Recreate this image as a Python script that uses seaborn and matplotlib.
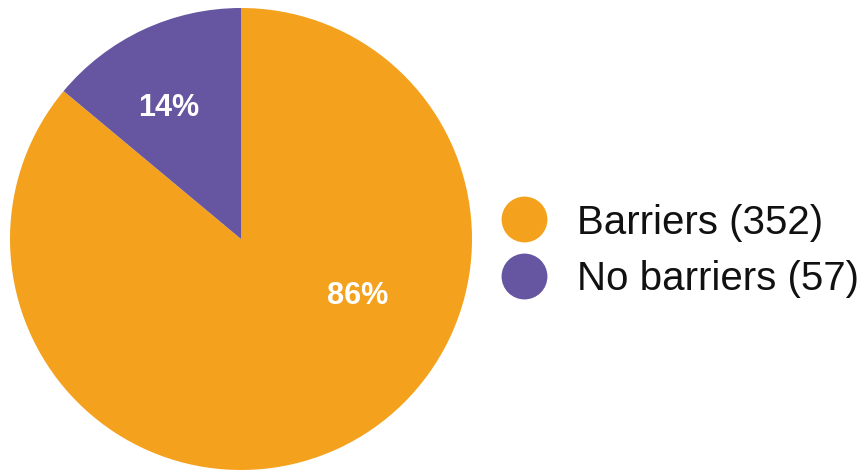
import matplotlib
matplotlib.use("Agg")
import matplotlib.pyplot as plt
from matplotlib.lines import Line2D
import numpy as np
import seaborn as sns

categories = ["Barriers", "No barriers"]
counts = [352, 57]
percent_labels = ["86%", "14%"]
colors = ["#F4A11D", "#6655A1"]

sns.set_theme(style="white")
plt.rcParams["font.family"] = ["Liberation Sans", "DejaVu Sans"]

fig = plt.figure(figsize=(8.59, 4.74), dpi=100)
W, H = 859, 474
cx, cy, r = 241, 239, 231
ax = fig.add_axes([(cx - r) / W, (H - cy - r) / H, 2 * r / W, 2 * r / H])

wedges, _ = ax.pie(counts, colors=colors, startangle=90, counterclock=False,
                   radius=1.0, wedgeprops=dict(linewidth=0))
ax.set_xlim(-1, 1)
ax.set_ylim(-1, 1)
ax.set_aspect("equal")
ax.axis("off")

# percentage labels: (angle in degrees, distance as fraction of radius)
label_pos = [(-26, 0.56), (119, 0.65)]
for txt, (ang, dist) in zip(percent_labels, label_pos):
    a = np.deg2rad(ang)
    ax.text(dist * np.cos(a), dist * np.sin(a), txt, color="white",
            fontsize=22, fontweight="bold", ha="center", va="center")

handles = [Line2D([], [], marker="o", linestyle="none", markersize=33,
                  markerfacecolor=c, markeredgewidth=0) for c in colors]
labels = [f"{c} ({n})" for c, n in zip(categories, counts)]
leg = fig.legend(handles, labels, loc="center left",
                 bbox_to_anchor=(476 / W, (H - 251) / H), frameon=False,
                 fontsize=29, handletextpad=0.5, labelspacing=0.47,
                 borderaxespad=0, handlelength=1.6)
for t in leg.get_texts():
    t.set_color("#111111")

fig.savefig("out.png", dpi=100)
